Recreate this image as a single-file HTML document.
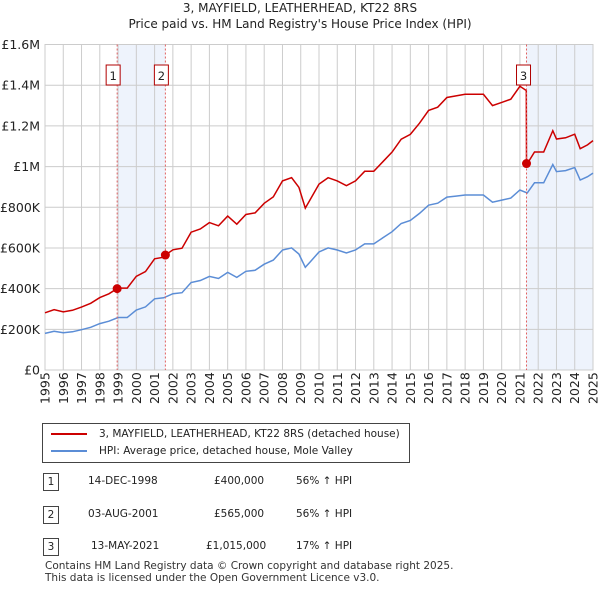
<!DOCTYPE html>
<html><head><meta charset="utf-8"><style>
body{margin:0;width:600px;height:590px;background:#fff;font-family:"DejaVu Sans","Liberation Sans",sans-serif;overflow:hidden}
svg{position:absolute;left:0;top:0}
</style></head><body>
<svg width="600" height="590" style="font-family:'DejaVu Sans',sans-serif">
<g id="grid"></g><g id="series"></g><g id="axes"></g>
</svg>
<script>
const hpiYears=[1995,1995.5,1996,1996.5,1997,1997.5,1998,1998.5,1999,1999.5,2000,2000.5,2001,2001.5,2002,2002.5,2003,2003.5,2004,2004.5,2005,2005.5,2006,2006.5,2007,2007.5,2008,2008.5,2008.9,2009.25,2009.5,2010,2010.5,2011,2011.5,2012,2012.5,2013,2013.5,2014,2014.5,2015,2015.5,2016,2016.5,2017,2017.5,2018,2018.5,2019,2019.5,2020,2020.5,2021,2021.4,2021.8,2022.3,2022.8,2023,2023.5,2024,2024.3,2024.7,2025];
const hpiValues=[180,190,183,188,198,210,228,240,258,258,295,310,350,355,375,380,430,440,460,450,480,455,485,490,520,540,590,600,570,505,530,580,600,590,575,590,620,620,650,680,720,735,770,810,820,850,855,860,860,860,825,835,845,885,870,920,920,1010,975,980,995,934,950,968];
const saleLabels=["1","2","3"];
const saleDates=[1998.95,2001.59,2021.36];
const salePrices=[400,565,1015];
const yTicks=[0,200,400,600,800,1000,1200,1400,1600];
const yTickLabels=["£0","£200K","£400K","£600K","£800K","£1M","£1.2M","£1.4M","£1.6M"];
const xTicks=[1995,1996,1997,1998,1999,2000,2001,2002,2003,2004,2005,2006,2007,2008,2009,2010,2011,2012,2013,2014,2015,2016,2017,2018,2019,2020,2021,2022,2023,2024,2025];

const X0=45,X1=593,Y0=370,Y1=44.5;
const xs=t=>X0+(t-1995)/30*(X1-X0);
const ys=v=>Y0-v/1600*(Y0-Y1);
const NS="http://www.w3.org/2000/svg";
function mk(tag,attrs,parent,txt){const e=document.createElementNS(NS,tag);for(const k in attrs)e.setAttribute(k,attrs[k]);if(txt!==undefined)e.textContent=txt;parent.appendChild(e);return e;}
const grid=document.getElementById('grid'),ser=document.getElementById('series'),ax=document.getElementById('axes');
let sh=mk('rect',{x:xs(saleDates[0]),y:Y1,width:xs(saleDates[1])-xs(saleDates[0]),height:Y0-Y1,fill:'#eef3fc'},grid);


let sh2=mk('rect',{x:xs(saleDates[2]),y:Y1,width:X1-xs(saleDates[2]),height:Y0-Y1,fill:'#eef3fc'},grid);


yTicks.forEach((v,i)=>{
  mk('line',{x1:X0,x2:X1,y1:ys(v),y2:ys(v),stroke:'#ccc','stroke-width':1},grid);
  const t=mk('text',{x:40,y:ys(v)+4.5,'text-anchor':'end','font-size':12.5,fill:'#222'},ax,yTickLabels[i]);
  
  
});
xTicks.forEach(y=>{
  mk('line',{x1:xs(y),x2:xs(y),y1:Y1,y2:Y0,stroke:'#ccc','stroke-width':1},grid);
  const t=mk('text',{x:0,y:0,transform:`translate(${xs(y)+4.5},${Y0+34}) rotate(-90)`,'font-size':12.5,fill:'#222'},ax,String(y));
  
  
});
mk('rect',{x:X0,y:Y1,width:X1-X0,height:Y0-Y1,fill:'none',stroke:'#ccc'},grid);
function hpiAt(t){for(let i=0;i<hpiYears.length-1;i++){if(t<=hpiYears[i+1]){const f=(t-hpiYears[i])/(hpiYears[i+1]-hpiYears[i]);return hpiValues[i]+f*(hpiValues[i+1]-hpiValues[i]);}}return hpiValues[hpiValues.length-1];}
let redPts=[],eps=0.01;
let times=hpiYears.slice();saleDates.forEach(d=>{times.push(d-eps,d);});times.sort((a,b)=>a-b);
times.forEach(t=>{let idx=0;for(let i=0;i<saleDates.length;i++)if(t>=saleDates[i])idx=i;const r=salePrices[idx]/hpiAt(saleDates[idx]);redPts.push(xs(t).toFixed(1)+','+ys(hpiAt(t)*r).toFixed(1));});
let bp=hpiYears.map((t,i)=>xs(t).toFixed(1)+','+ys(hpiValues[i]).toFixed(1)).join(' ');
const bl=mk('polyline',{points:bp,fill:'none',stroke:'#5b8dd6','stroke-width':1.5},ser);


const rl=mk('polyline',{points:redPts.join(' '),fill:'none',stroke:'#cc0000','stroke-width':1.5},ser);


saleDates.forEach((d,i)=>{
  mk('line',{x1:xs(d),x2:xs(d),y1:Y1,y2:Y0,stroke:'#e06060','stroke-dasharray':'2,2','stroke-width':1},ser);
  const c=mk('circle',{cx:xs(d),cy:ys(salePrices[i]),r:4.5,fill:'#cc0000'},ser);
  
  
  const bx=xs(d)-(i<2?4:3)-7;
  const r=mk('rect',{x:bx,y:65,width:14,height:20,fill:'#fff',stroke:'#b00000'},ser);
  
  
  mk('text',{x:bx+7,y:80,'text-anchor':'middle','font-size':11.5,fill:'#222'},ser,saleLabels[i]);
});
</script>
<div style="position:absolute;top:0;left:0;width:600px;text-align:center;font-size:12px;color:#222;line-height:16px">3, MAYFIELD, LEATHERHEAD, KT22 8RS<br>Price paid vs. HM Land Registry's House Price Index (HPI)</div>
<div style="position:absolute;left:42px;top:423px;width:366px;height:38px;border:1px solid #444;font-size:10.5px;color:#222">
 <div style="position:absolute;left:8px;top:4px;white-space:nowrap"><span style="display:inline-block;width:36px;height:2px;background:#cc0000;vertical-align:middle;margin-right:12px"></span>3, MAYFIELD, LEATHERHEAD, KT22 8RS (detached house)</div>
 <div style="position:absolute;left:8px;top:21px;white-space:nowrap"><span style="display:inline-block;width:36px;height:2px;background:#5b8dd6;vertical-align:middle;margin-right:12px"></span>HPI: Average price, detached house, Mole Valley</div>
</div>
<div style="font-size:10.5px;color:#222">
 <div style="position:absolute;left:43px;top:473px;width:14px;height:16px;border:1px solid #444;text-align:center;line-height:16px">1</div>
 <div style="position:absolute;left:88px;top:475px">14-DEC-1998</div><div style="position:absolute;left:214px;top:475px">£400,000</div><div style="position:absolute;left:296px;top:475px">56% ↑ HPI</div>
 <div style="position:absolute;left:43px;top:506px;width:14px;height:16px;border:1px solid #444;text-align:center;line-height:16px">2</div>
 <div style="position:absolute;left:88px;top:508px">03-AUG-2001</div><div style="position:absolute;left:214px;top:508px">£565,000</div><div style="position:absolute;left:296px;top:508px">56% ↑ HPI</div>
 <div style="position:absolute;left:43px;top:538px;width:14px;height:16px;border:1px solid #444;text-align:center;line-height:16px">3</div>
 <div style="position:absolute;left:91px;top:540px">13-MAY-2021</div><div style="position:absolute;left:206px;top:540px">£1,015,000</div><div style="position:absolute;left:296px;top:540px">17% ↑ HPI</div>
</div>
<div style="position:absolute;left:45px;top:560px;font-size:10.5px;color:#333;line-height:12px;white-space:nowrap">Contains HM Land Registry data © Crown copyright and database right 2025.<br>This data is licensed under the Open Government Licence v3.0.</div>
</body></html>
